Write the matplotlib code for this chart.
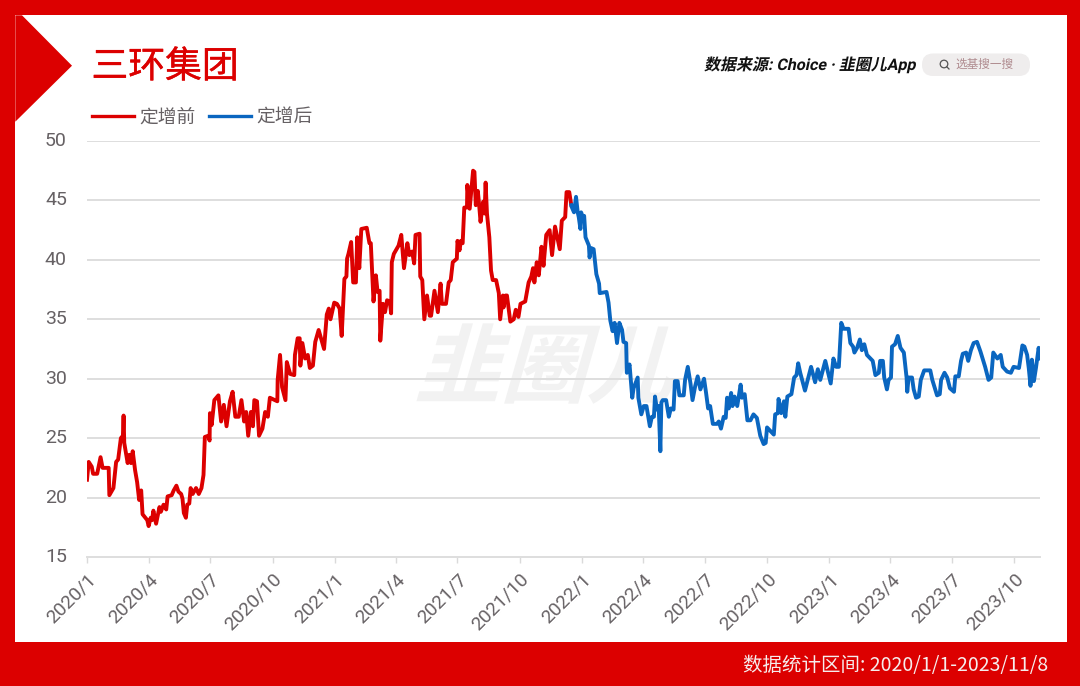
import datetime as dt
import matplotlib
matplotlib.use("Agg")
import matplotlib.pyplot as plt
import matplotlib.dates as mdates
from matplotlib.patches import Rectangle, Polygon, FancyBboxPatch, Circle
from matplotlib.lines import Line2D
from matplotlib.patheffects import AbstractPathEffect, withStroke
from matplotlib.transforms import Affine2D

CN = ['Noto Sans CJK SC', 'DejaVu Sans']
NUM = ['Roboto', 'Noto Sans CJK SC']
plt.rcParams['font.family'] = CN

# ---------- data: days since 2020/1/1, share price ----------
START = dt.date(2020, 1, 1)
END = dt.date(2023, 11, 8)
pre_days = [0,2.5,7,9,15,20,23,32,33,39,43,46,50,53,54,55,57,60,62.5,65,67.5,71,74,77,80,82,89,91,94,96,98,102,107,109,113,117,119,125,128,132,135,139,141,143,146,148,151,153,156,161,165,169,172,174,179,181,181.5,184,188,194,198,202,206,211,215,219,224,228,232,235,238,242,245,247,251,254,259,263,267,270,281,281.5,285,288,293,295,300,306,307,311,314,315,318,322,326,329,333.5,337,342,345,350,354,357,359.5,365,369,373,376,380,383,384,386,390,393,397,399,402,405,413,417,419,423,426.5,429,432,433,437,440,443,447,449,450,453,460,464,468,473,476,480,483,485,491,492,495,498,502,506,508,513,518,522,524,530,534,537,540,546,547,550,552,554.6,557,561,561.5,565,570,572,574,577,579,581,585,587,588.5,590.5,594,596.5,599,604,608,610,614,615,618,620,625,630,633,637,640,647,652,656,658.5,660.5,664,667,671,674,678,683,686.6,691,698,701,706,708,712,715]
pre_price = [21.5,23.0,22.6,22.0,22.0,23.4,22.5,22.5,20.2,20.8,23.0,23.2,25.0,25.2,26.9,24.6,23.9,22.9,23.6,22.9,23.9,22.3,21.3,19.8,20.6,18.6,18.1,17.6,18.3,18.1,18.9,17.8,19.2,18.8,19.4,19.0,20.1,20.2,20.6,21.0,20.5,20.3,19.9,18.7,18.3,19.4,19.5,20.8,20.3,20.8,20.3,20.8,21.9,25.1,25.2,24.8,27.1,26.1,28.2,28.6,26.4,27.8,26.0,28.1,28.9,26.8,26.8,28.2,26.4,27.2,25.2,27.2,26.0,28.2,28.1,25.2,25.8,27.2,26.8,28.4,28.1,29.9,32.0,29.3,28.2,31.4,30.4,30.3,32.0,33.4,33.4,31.1,33.0,31.7,32.0,30.9,31.1,33.1,34.1,33.5,32.5,35.4,35.9,35.0,36.4,36.3,35.9,33.6,38.4,38.6,40.1,40.5,41.5,38.1,38.1,41.9,39.3,42.6,42.7,41.4,41.4,36.5,38.7,37.3,37.4,33.2,36.3,35.6,36.6,36.5,35.5,39.8,40.5,41.2,42.1,39.3,41.4,40.4,40.7,39.7,42.1,42.2,38.6,38.3,35.0,37.0,35.3,35.3,37.4,35.6,38.0,36.3,36.3,38.1,38.3,39.8,40.1,41.6,40.8,41.6,41.4,44.4,44.4,46.3,44.3,47.5,47.4,44.6,45.8,44.6,43.2,44.9,43.9,46.5,43.9,41.9,39.1,38.3,38.3,37.2,35.0,37.0,36.0,37.0,37.0,34.8,35.0,35.8,35.2,36.3,36.5,38.1,38.6,39.3,38.1,39.8,38.7,41.1,39.5,42.1,42.5,40.4,42.8,40.9,43.3,43.6,45.7,45.7,44.6]
post_days = [715,716,719,722,724.5,726,728.5,729.5,732,734,736,741,742,744,748,752,756,757,767,770,772.6,776,779,782.5,786,790,792,796,797,801,805,807,813,814,818.4,822,826,831,834,837,838.6,841.5,844,846.5,848,850,855,859,862,866,868,872,874.6,881,883,887,891,894,898,901.6,905.6,911,914,917,920,924,930,932.7,936,940,943,945,947.5,951,953,956,960,965,967,971,975,979.5,984,989,994,999,1002,1004,1014,1016,1020,1021,1025,1029,1031,1034,1040,1044,1047.5,1050,1053,1060,1069,1075,1079,1082.6,1090,1093,1098,1102,1106,1110,1113.6,1117,1124.4,1127,1131,1133,1137,1141,1144,1147.6,1151.5,1160,1164,1169,1171,1175,1177,1181,1183.5,1187,1188.5,1193,1197,1201,1206,1210,1211,1213,1218,1220.5,1224,1228,1231,1236,1245,1248,1255,1259,1261,1266,1270,1274,1280,1282,1287,1290.4,1293,1298,1301,1305,1309,1314,1319,1326,1331,1335,1338,1344,1349,1352,1358.4,1364,1368,1376,1381,1384,1388,1390.4,1393,1395,1398,1401,1405,1407]
post_price = [44.6,44.4,44.0,45.3,44.0,43.6,42.6,44.0,43.6,43.7,41.9,41.2,40.2,41.0,40.9,38.8,38.0,37.2,37.3,36.4,34.9,34.0,34.7,33.0,34.7,34.1,33.1,33.0,30.5,31.2,28.4,29.2,30.1,28.4,27.0,27.7,27.7,26.0,26.8,26.8,28.5,27.4,27.7,23.9,28.0,28.2,28.2,26.8,27.5,27.4,29.8,29.8,28.6,28.6,29.9,31.0,29.6,28.2,29.4,30.2,29.1,30.0,28.8,27.5,27.7,26.2,26.2,26.4,25.8,26.8,26.7,28.4,27.5,28.8,27.7,28.5,27.7,29.5,28.4,28.7,26.5,26.5,27.0,26.7,25.2,24.5,24.6,25.9,25.3,27.0,27.1,28.3,27.1,28.1,26.8,28.5,28.7,30.1,30.3,31.3,30.5,29.0,31.0,29.7,30.8,29.9,31.5,30.8,29.6,31.7,31.0,31.0,34.7,34.2,34.2,33.0,32.7,32.2,32.6,33.3,32.4,32.9,32.0,31.5,30.3,30.5,31.5,31.5,30.1,29.1,29.9,30.1,32.7,32.9,33.6,32.6,32.2,30.1,28.9,30.1,30.1,29.1,28.4,28.5,29.9,30.7,30.7,29.9,28.6,28.7,29.9,30.5,30.1,29.2,28.9,30.2,30.2,31.5,32.1,32.2,31.5,32.4,33.0,33.1,32.3,31.0,29.9,30.1,32.2,31.7,32.0,31.0,30.6,30.5,31.0,30.9,32.8,32.7,32.0,30.9,29.4,31.6,29.8,30.9,32.6,31.7]
series_names = ['定增前', '定增后']
y_ticks = [15, 20, 25, 30, 35, 40, 45, 50]
x_tick_dates = [dt.date(y, m, 1) for y in (2020, 2021, 2022, 2023) for m in (1, 4, 7, 10)]
title = '三环集团'
source = '数据来源: Choice · 韭圈儿App'
search = '选基搜一搜'
watermark = '韭圈儿'
footer = '数据统计区间: 2020/1/1-2023/11/8'

RED = '#DC0000'
BLUE = '#0A66C0'
GREY = '#666164'
W, H = 1080, 686


class Skew(AbstractPathEffect):
    """Lean upright glyphs (the CJK fonts have no italic face)."""
    def __init__(self, x0, y0, deg):
        super().__init__()
        self.x0, self.y0, self.deg = x0, y0, deg

    def draw_path(self, renderer, gc, tpath, affine, rgbFace=None):
        shear = Affine2D().translate(-self.x0, -self.y0).skew_deg(self.deg, 0).translate(self.x0, self.y0)
        renderer.draw_path(gc, tpath, affine + shear, rgbFace)


fig = plt.figure(figsize=(W / 100, H / 100), dpi=100, facecolor=RED)

# page furniture in pixel coordinates
bg = fig.add_axes([0, 0, 1, 1], zorder=0)
bg.set_xlim(0, W)
bg.set_ylim(H, 0)
bg.axis('off')
bg.add_patch(Rectangle((15.3, 15.3), 1051.4, 627, fc='white', ec='none'))
bg.add_patch(Polygon([(15.3, 15.3), (22, 15.3), (72, 65.7), (15.3, 121.7)], fc=RED, ec='none'))
bg.add_patch(FancyBboxPatch((922, 53.5), 108, 22.5, boxstyle='round,pad=0,rounding_size=11',
                            fc='#EFEDED', ec='none'))
bg.add_patch(Circle((944, 64), 3.8, fc='none', ec='#555', lw=0.9))
bg.add_line(Line2D([946.8, 949], [66.8, 69], color='#555', lw=0.9))

t = bg.text(91.5, 67, title, color=RED, fontsize=26.5, va='center', ha='left', family=CN)
t.set_path_effects([withStroke(linewidth=0.3, foreground=RED)])
t = bg.text(704, 70, source, color='#111111', fontsize=11.5, fontweight='bold', va='baseline', ha='left',
            family=['Roboto', 'Noto Sans CJK SC'])
t.set_path_effects([Skew(704, H - 70, 12)])
bg.text(955, 64.5, search, color='#B08C90', fontsize=8.4, va='center', ha='left', family=CN)
t = bg.text(414, 396, watermark, color='#F2F2F2', fontsize=62, fontweight='bold', va='baseline', ha='left', family=CN)
t.set_path_effects([Skew(414, H - 396, 16)])
bg.text(1048, 665, footer, color='#F6ECEC', fontsize=14, va='center', ha='right', family=CN)

# chart
ax = fig.add_axes([87 / W, 1 - 557 / H, 953 / W, (557 - 141) / H], zorder=2)
ax.patch.set_alpha(0)
base = mdates.date2num(START)
ax.plot([base + d for d in pre_days], pre_price, color=RED, lw=2.8, solid_joinstyle='round',
        label=series_names[0], zorder=3)
ax.plot([base + d for d in post_days], post_price, color=BLUE, lw=2.8, solid_joinstyle='round',
        label=series_names[1], zorder=4)
ax.set_xlim(base, mdates.date2num(END))
ax.set_ylim(15, 50)
ax.set_yticks(y_ticks)
ax.set_yticklabels([str(v) for v in y_ticks], family=NUM, fontsize=14, color=GREY, va='center')
ax.tick_params(axis='y', length=0, pad=14.5)
ax.set_xticks([mdates.date2num(d) for d in x_tick_dates])
ax.set_xticklabels([f'{d.year}/{d.month}' for d in x_tick_dates], family=NUM, fontsize=13.8, color=GREY,
                   rotation=45, ha='right', va='top', rotation_mode='anchor')
ax.tick_params(axis='x', length=4.5, width=1, color='#DADADA', pad=5)
ax.grid(axis='y', color='#DEDEDE', lw=1.4, zorder=1)
ax.set_axisbelow(True)
for side in ('top', 'right', 'left'):
    ax.spines[side].set_visible(False)
ax.spines['bottom'].set_color('#DEDEDE')
ax.spines['bottom'].set_linewidth(1.4)

leg = ax.legend(loc='center left', bbox_to_anchor=(92 / W, 1 - 117 / H), bbox_transform=fig.transFigure,
                ncols=2, frameon=False, fontsize=13.5, handlelength=2.25, handletextpad=0.25,
                columnspacing=0.75, borderpad=0, borderaxespad=0, labelcolor=GREY)
for h in leg.get_lines():
    h.set_linewidth(2.4)

fig.savefig('out.png', dpi=100, facecolor=RED)
